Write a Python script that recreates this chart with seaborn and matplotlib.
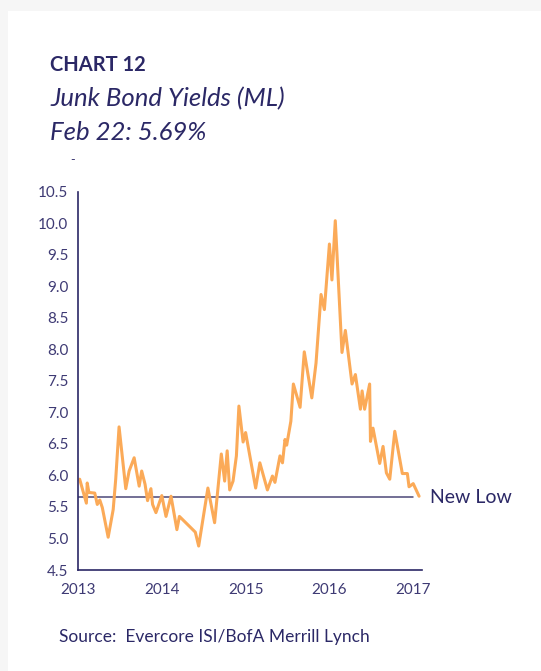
import matplotlib
matplotlib.use("Agg")
import matplotlib.pyplot as plt
import matplotlib.patches as mpatches
import seaborn as sns
import pandas as pd

# ---- data ----
years = [2013.02, 2013.10, 2013.11, 2013.13, 2013.20, 2013.23, 2013.26, 2013.29, 2013.36, 2013.42,
         2013.45, 2013.49, 2013.57, 2013.61, 2013.67, 2013.73, 2013.76, 2013.80, 2013.83, 2013.87,
         2013.89, 2013.93, 2014.00, 2014.05, 2014.11, 2014.18, 2014.21, 2014.40, 2014.44, 2014.55,
         2014.63, 2014.71, 2014.75, 2014.78, 2014.81, 2014.85, 2014.89, 2014.92, 2014.97, 2015.00,
         2015.12, 2015.17, 2015.26, 2015.32, 2015.35, 2015.41, 2015.44, 2015.47, 2015.49, 2015.54,
         2015.57, 2015.65, 2015.70, 2015.79, 2015.84, 2015.90, 2015.94, 2016.00, 2016.03, 2016.07,
         2016.15, 2016.19, 2016.27, 2016.31, 2016.37, 2016.39, 2016.42, 2016.48, 2016.49, 2016.52,
         2016.60, 2016.64, 2016.68, 2016.72, 2016.78, 2016.87, 2016.93, 2016.95, 2017.00, 2017.07]
yields = [5.94, 5.56, 5.88, 5.73, 5.72, 5.54, 5.61, 5.49, 5.02, 5.46,
          5.94, 6.77, 5.79, 6.07, 6.28, 5.83, 6.07, 5.86, 5.60, 5.79,
          5.54, 5.41, 5.68, 5.35, 5.67, 5.14, 5.35, 5.10, 4.88, 5.80,
          5.25, 6.34, 5.91, 6.39, 5.77, 5.91, 6.31, 7.10, 6.53, 6.68,
          5.80, 6.20, 5.77, 5.99, 5.89, 6.31, 6.20, 6.57, 6.48, 6.86,
          7.45, 7.08, 7.96, 7.23, 7.78, 8.87, 8.63, 9.67, 9.10, 10.04,
          7.95, 8.30, 7.45, 7.60, 7.05, 7.34, 7.05, 7.45, 6.54, 6.75,
          6.19, 6.46, 6.04, 5.94, 6.70, 6.03, 6.03, 5.82, 5.87, 5.67]
new_low = 5.65
new_low_span = [2013.0, 2017.0]
x_ticks = [2013, 2014, 2015, 2016, 2017]
y_ticks = [4.5, 5.0, 5.5, 6.0, 6.5, 7.0, 7.5, 8.0, 8.5, 9.0, 9.5, 10.0, 10.5]

df = pd.DataFrame({"year": years, "yield": yields})

NAVY = "#2b2866"
TICK = "#3e3a74"
ORANGE = "#FBAA58"

sns.set_theme(style="white")
plt.rcParams["font.family"] = ["Lato", "DejaVu Sans"]

W, H = 541, 671
fig = plt.figure(figsize=(W / 100, H / 100), dpi=100)
fig.patch.set_facecolor("#f6f6f6")
card = mpatches.Rectangle((8 / W, 0), 1, 1 - 11 / H, transform=fig.transFigure,
                          facecolor="white", edgecolor="none", zorder=-10)
fig.patches.append(card)

ax = fig.add_axes([78 / W, 1 - 570 / H, 343.6 / W, (570 - 191.7) / H])
ax.set_zorder(5)
ax.set_facecolor("none")

sns.lineplot(data=df, x="year", y="yield", ax=ax, color=ORANGE, linewidth=2.2)
ax.plot(new_low_span, [new_low, new_low], color="#4b4878", linewidth=1.1, zorder=1)

ax.set_xlim(2013, 2017.1)
ax.set_ylim(4.5, 10.5)
ax.set_xticks(x_ticks)
ax.set_xticklabels([str(t) for t in x_ticks])
ax.set_yticks(y_ticks)
ax.set_yticklabels([f"{t:.1f}" for t in y_ticks])
ax.set_xlabel("")
ax.set_ylabel("")
for s in ["top", "right"]:
    ax.spines[s].set_visible(False)
for s in ["left", "bottom"]:
    ax.spines[s].set_color(NAVY)
    ax.spines[s].set_linewidth(1.2)
ax.tick_params(axis="both", which="both", direction="out", length=5, width=1.1,
               color=NAVY, labelcolor=TICK, labelsize=11, pad=2)
ax.tick_params(axis="x", pad=4)
ax.grid(False)

ax.text(2017.2, new_low, "New Low", color=NAVY, fontsize=14, va="center", ha="left",
        clip_on=False)

fig.text(50 / W, 1 - 65 / H, "CHART 12", color=NAVY, fontsize=14.5, fontweight="bold",
         va="center", ha="left")
fig.text(50 / W, 1 - 99 / H, "Junk Bond Yields (ML)", color=NAVY, fontsize=18.5,
         fontstyle="italic", va="center", ha="left")
fig.text(50 / W, 1 - 133 / H, "Feb 22: 5.69%", color=NAVY, fontsize=18.5,
         fontstyle="italic", va="center", ha="left")
fig.text(70 / W, 1 - 160 / H, "-", color=TICK, fontsize=9, va="center", ha="left")
fig.text(59 / W, 1 - 637 / H, "Source:  Evercore ISI/BofA Merrill Lynch", color=NAVY,
         fontsize=12.5, va="center", ha="left")

fig.savefig("out.png", dpi=100)
